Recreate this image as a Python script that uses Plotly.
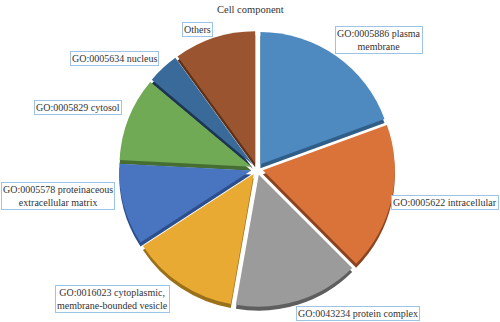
import plotly.graph_objects as go

labels = ["GO:0005886 plasma membrane", "GO:0005622 intracellular", "GO:0043234 protein complex",
          "GO:0016023 cytoplasmic, membrane-bounded vesicle", "GO:0005578 proteinaceous extracellular matrix",
          "GO:0005829 cytosol", "GO:0005634 nucleus", "Others"]
values = [70, 65, 55, 47, 36, 37, 14, 36]
colors = ["#4E8AC0", "#D9733A", "#9B9B9B", "#E8AA33", "#4874C0", "#70AA55", "#3A6A9A", "#9A5530"]
side_colors = ["#2F5E88", "#8A4320", "#5E5E5E", "#9A7018", "#2C4F8E", "#466E32", "#1C3550", "#5E3018"]
box_texts = ["GO:0005886 plasma<br>membrane", "GO:0005622 intracellular", "GO:0043234 protein complex",
             "GO:0016023 cytoplasmic,<br>membrane-bounded vesicle", "GO:0005578 proteinaceous<br>extracellular matrix",
             "GO:0005829 cytosol", "GO:0005634 nucleus", "Others"]
# (x px, y px, xanchor)
box_px = [(379, 40, "center"), (499, 202, "right"), (358, 313, "center"), (112, 299, "center"),
          (1, 196, "left"), (78, 107, "center"), (114, 59, "center"), (197, 29, "center")]

W, H = 500, 322
cx, cy, R = 257, 169, 138
dom_x = [(cx - R) / W, (cx + R) / W]
dom_y = [1 - (cy + R) / H, 1 - (cy - R) / H]
shift = 4 / H
FONT = "Liberation Serif"

fig = go.Figure()
fig.add_trace(go.Pie(labels=labels, values=values, sort=False, direction="clockwise", rotation=0,
                     pull=[0.045] * len(values), marker=dict(colors=side_colors, line=dict(width=0)),
                     textinfo="none", hoverinfo="skip", showlegend=False,
                     domain=dict(x=dom_x, y=[dom_y[0] - shift, dom_y[1] - shift])))
fig.add_trace(go.Pie(labels=labels, values=values, sort=False, direction="clockwise", rotation=0,
                     pull=[0.045] * len(values), marker=dict(colors=colors, line=dict(width=0)),
                     textinfo="none", showlegend=False,
                     domain=dict(x=dom_x, y=dom_y)))

annots = []
for t, (px, py, xa) in zip(box_texts, box_px):
    annots.append(dict(text=t, x=px / W, y=1 - py / H, xref="paper", yref="paper", showarrow=False,
                       xanchor=xa, yanchor="middle", bordercolor="#9DC3E6", borderwidth=1,
                       borderpad=1, bgcolor="white",
                       font=dict(family=FONT, size=10, color="#333333")))
annots.append(dict(text="Cell component", x=0.5, y=1 - 9 / H, xref="paper", yref="paper", showarrow=False,
                   xanchor="center", yanchor="middle",
                   font=dict(family=FONT, size=10.5, color="#333333")))

fig.update_layout(width=W, height=H, margin=dict(l=0, r=0, t=0, b=0), paper_bgcolor="white",
                  font=dict(family=FONT), annotations=annots)
fig.write_html("out.html")
